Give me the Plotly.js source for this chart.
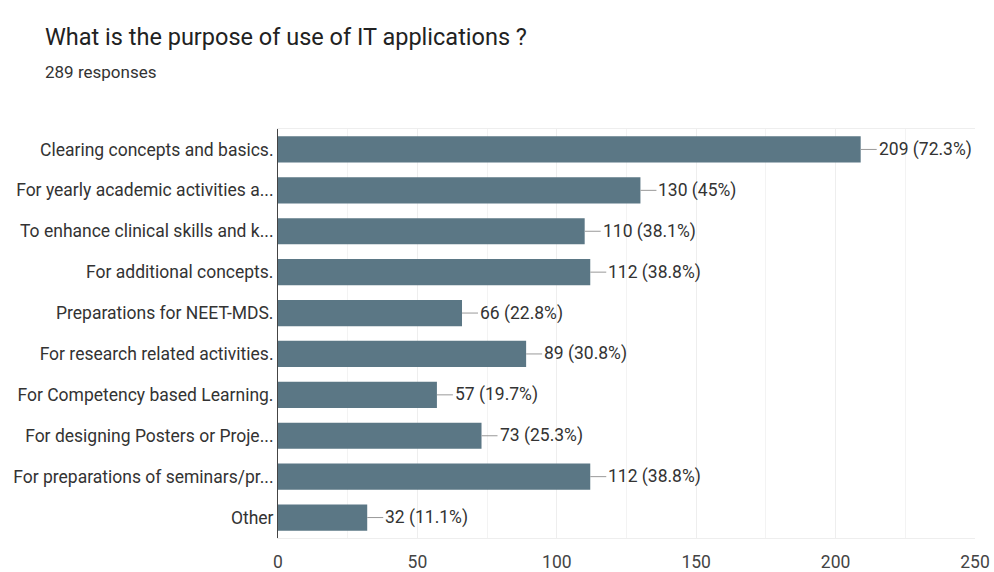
<!DOCTYPE html>
<html><head><meta charset="utf-8">
<script src="https://cdn.plot.ly/plotly-3.0.1.min.js"></script>
<style>html,body{margin:0;padding:0;background:#fff}#c{width:994px;height:572px}</style>
</head><body><div id="c"></div>
<script>
const categories = [
  "Clearing concepts and basics.",
  "For yearly academic activities a...",
  "To enhance clinical skills and k...",
  "For additional concepts.",
  "Preparations for NEET-MDS.",
  "For research related activities.",
  "For Competency based Learning.",
  "For designing Posters or Proje...",
  "For preparations of seminars/pr...",
  "Other"
];
const counts = [209, 130, 110, 112, 66, 89, 57, 73, 112, 32];
const percents = ["72.3%", "45%", "38.1%", "38.8%", "22.8%", "30.8%", "19.7%", "25.3%", "38.8%", "11.1%"];
const tickVals = [0, 50, 100, 150, 200, 250];

const font = "Roboto, 'Liberation Sans', sans-serif";
const trace = {
  type: "bar", orientation: "h",
  x: counts, y: categories,
  marker: {color: "#5b7785"},
  hoverinfo: "skip"
};
const annotations = counts.map((v, i) => ({
  x: v, y: categories[i], xref: "x", yref: "y",
  text: v + " (" + percents[i] + ")",
  showarrow: true, arrowhead: 0, arrowwidth: 1, arrowcolor: "#999",
  ax: 16, ay: 0, xanchor: "left", standoff: 0,
  font: {family: font, size: 17.5, color: "#333"}
}));
annotations.push({
  xref: "paper", yref: "paper", x: -0.337, y: 1.225, xanchor: "left", yanchor: "middle",
  text: "What is the purpose of use of IT applications ?", showarrow: false,
  font: {family: font, size: 23.5, color: "#222"}
});
annotations.push({
  xref: "paper", yref: "paper", x: -0.337, y: 1.14, xanchor: "left", yanchor: "middle",
  text: "289 responses", showarrow: false,
  font: {family: font, size: 17, color: "#333"}
});
const layout = {
  width: 994, height: 572,
  margin: {l: 278, r: 19, t: 129, b: 34},
  paper_bgcolor: "#fff", plot_bgcolor: "#fff",
  bargap: 0.36,
  showlegend: false,
  xaxis: {
    range: [0, 250], tickvals: tickVals, ticktext: tickVals.map(String),
    showgrid: true, gridcolor: "#eeeeee", zeroline: false,
    minor: {dtick: 25, showgrid: true, gridcolor: "#f3f3f3"},
    tickfont: {family: font, size: 17.5, color: "#444"}, ticks: "", ticklen: 0,
    ticklabelstandoff: 8,
    showline: true, linecolor: "#eeeeee", mirror: true
  },
  yaxis: {
    autorange: "reversed", showgrid: false, zeroline: false,
    showline: true, linecolor: "#444", linewidth: 1,
    ticks: "", tickfont: {family: font, size: 17.5, color: "#333"}
  },
  annotations: annotations
};
Plotly.newPlot("c", [trace], layout, {staticPlot: true, displayModeBar: false});
</script></body></html>
